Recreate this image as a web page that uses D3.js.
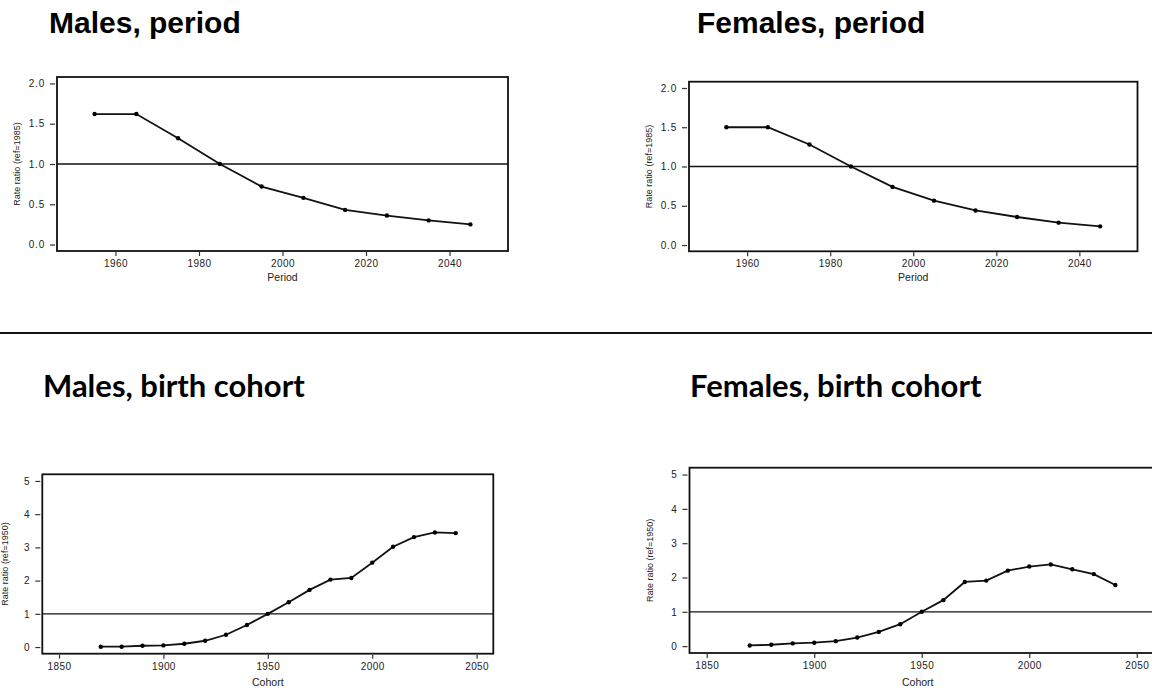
<!DOCTYPE html>
<html>
<head>
<meta charset="utf-8">
<script src="https://cdn.jsdelivr.net/npm/d3@7/dist/d3.min.js"></script>
<style>
  html, body { margin: 0; padding: 0; background: #fff; }
  svg { display: block; }
  .tick text { font-family: "Liberation Sans", Arial, sans-serif; fill: #222; }
</style>
</head>
<body>
<svg id="chart" width="1152" height="690"></svg>
<script>
// ---- Data ----
const periodYears = [1955, 1965, 1975, 1985, 1995, 2005, 2015, 2025, 2035, 2045];
const malesPeriod = [1.62, 1.62, 1.32, 1.00, 0.72, 0.58, 0.43, 0.36, 0.30, 0.25];
const femalesPeriod = [1.50, 1.50, 1.28, 1.00, 0.74, 0.565, 0.44, 0.357, 0.285, 0.238];

const cohortYears = [1870, 1880, 1890, 1900, 1910, 1920, 1930, 1940, 1950, 1960, 1970, 1980, 1990, 2000, 2010, 2020, 2030, 2040];
const malesCohort = [0.01, 0.01, 0.04, 0.05, 0.10, 0.19, 0.37, 0.665, 1.00, 1.35, 1.72, 2.03, 2.08, 2.54, 3.02, 3.31, 3.45, 3.43];
const femalesCohort = [0.02, 0.04, 0.08, 0.10, 0.145, 0.25, 0.415, 0.64, 1.00, 1.34, 1.87, 1.91, 2.20, 2.32, 2.38, 2.24, 2.10, 1.78];

const periodXTicks = [1960, 1980, 2000, 2020, 2040];
const periodYTicks = [0, 0.5, 1.0, 1.5, 2.0];
const cohortXTicks = [1850, 1900, 1950, 2000, 2050];
const cohortYTicks = [0, 1, 2, 3, 4, 5];

const titles = ["Males, period", "Females, period", "Males, birth cohort", "Females, birth cohort"];
const xTitles = ["Period", "Period", "Cohort", "Cohort"];
const yTitles = ["Rate ratio (ref=1985)", "Rate ratio (ref=1985)", "Rate ratio (ref=1950)", "Rate ratio (ref=1950)"];
const refValue = 1;

// ---- Layout ----
const svg = d3.select("#chart");

const panels = [
  { x: periodYears, y: malesPeriod, xd: [1946, 2054], yd: [-0.08, 2.08], xt: periodXTicks, yt: periodYTicks, fmt: d3.format(".1f"),
    box: { l: 57, r: 508, t: 77, b: 251 }, title: { x: 49, y: 33, font: "period" }, yTitleX: 18, xTitleY: 281 },
  { x: periodYears, y: femalesPeriod, xd: [1946, 2054], yd: [-0.08, 2.08], xt: periodXTicks, yt: periodYTicks, fmt: d3.format(".1f"),
    box: { l: 689, r: 1137.5, t: 81.7, b: 251.3 }, title: { x: 697, y: 33, font: "period" }, yTitleX: 650, xTitleY: 281 },
  { x: cohortYears, y: malesCohort, xd: [1842, 2058], yd: [-0.2, 5.2], xt: cohortXTicks, yt: cohortYTicks, fmt: d3.format("d"),
    box: { l: 42.3, r: 493.3, t: 474.3, b: 653.7 }, title: { x: 43, y: 397, font: "cohort" }, yTitleX: 6, xTitleY: 686 },
  { x: cohortYears, y: femalesCohort, xd: [1842, 2058], yd: [-0.2, 5.2], xt: cohortXTicks, yt: cohortYTicks, fmt: d3.format("d"),
    box: { l: 689.5, r: 1154, t: 467.7, b: 653 }, title: { x: 690, y: 397, font: "cohort" }, yTitleX: 651, xTitleY: 686 }
];

panels.forEach((p, i) => {
  const g = svg.append("g");
  const xs = d3.scaleLinear().domain(p.xd).range([p.box.l, p.box.r]);
  const ys = d3.scaleLinear().domain(p.yd).range([p.box.b, p.box.t]);

  // title
  const tt = svg.append("text")
    .attr("x", p.title.x).attr("y", p.title.y)
    .attr("fill", "#000")
    .attr("font-weight", "bold")
    .text(titles[i]);
  if (p.title.font === "period") {
    tt.attr("font-family", "'Liberation Sans', Arial, sans-serif").attr("font-size", 30);
  } else {
    tt.attr("font-family", "Lato, 'Open Sans', sans-serif").attr("font-size", 31);
  }

  // y axis
  const yAxis = d3.axisLeft(ys).tickValues(p.yt).tickFormat(p.fmt).tickSize(5).tickPadding(5);
  const ya = g.append("g").attr("transform", `translate(${p.box.l - 2},0)`).call(yAxis);
  ya.select(".domain").remove();
  ya.selectAll(".tick line").attr("stroke", "#333").attr("stroke-width", 1.2);
  ya.selectAll(".tick text").attr("font-size", 10).attr("letter-spacing", 0.8);

  // x axis
  const xAxis = d3.axisBottom(xs).tickValues(p.xt).tickFormat(d3.format("d")).tickSize(4).tickPadding(4);
  const xa = g.append("g").attr("transform", `translate(0,${p.box.b + 1})`).call(xAxis);
  xa.select(".domain").remove();
  xa.selectAll(".tick line").attr("stroke", "#333").attr("stroke-width", 1.2);
  xa.selectAll(".tick text").attr("font-size", 10).attr("letter-spacing", 0.4);

  // reference line
  g.append("line")
    .attr("x1", p.box.l).attr("x2", p.box.r)
    .attr("y1", ys(refValue)).attr("y2", ys(refValue))
    .attr("stroke", "#111").attr("stroke-width", 1.3);

  // series line
  const pts = p.x.map((d, k) => [d, p.y[k]]);
  g.append("path")
    .datum(pts)
    .attr("fill", "none")
    .attr("stroke", "#111")
    .attr("stroke-width", 1.8)
    .attr("d", d3.line().x(d => xs(d[0])).y(d => ys(d[1])));

  g.selectAll("circle.pt")
    .data(pts)
    .enter().append("circle")
    .attr("class", "pt")
    .attr("cx", d => xs(d[0])).attr("cy", d => ys(d[1]))
    .attr("r", 2.2)
    .attr("fill", "#000");

  // box
  g.append("rect")
    .attr("x", p.box.l).attr("y", p.box.t)
    .attr("width", p.box.r - p.box.l).attr("height", p.box.b - p.box.t)
    .attr("fill", "none").attr("stroke", "#111").attr("stroke-width", 1.8);

  // axis titles
  g.append("text")
    .attr("x", (p.box.l + p.box.r) / 2 + (i === 3 ? -4 : 0))
    .attr("y", p.xTitleY)
    .attr("text-anchor", "middle")
    .attr("font-family", "'Liberation Sans', Arial, sans-serif")
    .attr("font-size", 10.5)
    .attr("fill", "#222")
    .text(xTitles[i]);

  g.append("text")
    .attr("transform", `translate(${p.yTitleX},${(p.box.t + p.box.b) / 2}) rotate(-90)`)
    .attr("text-anchor", "middle")
    .attr("dominant-baseline", "middle")
    .attr("font-family", "'Liberation Sans Narrow', 'Liberation Sans', Arial, sans-serif")
    .attr("font-size", 9)
    .attr("fill", "#222")
    .text(yTitles[i]);
});

// divider between rows
svg.append("line")
  .attr("x1", 0).attr("x2", 1152)
  .attr("y1", 333).attr("y2", 333)
  .attr("stroke", "#111").attr("stroke-width", 2);
</script>
</body>
</html>
